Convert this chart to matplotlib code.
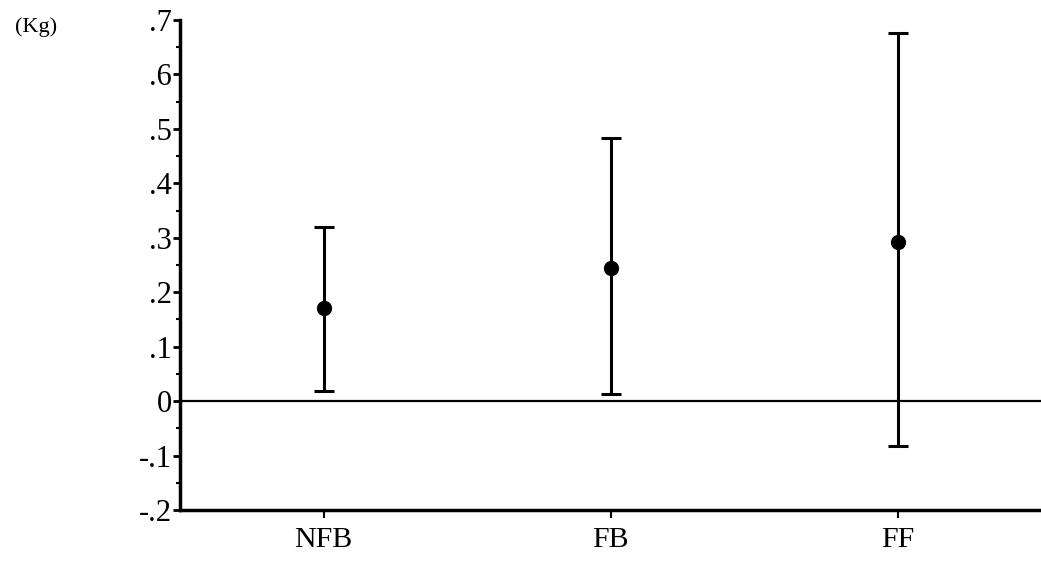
import matplotlib
matplotlib.use("Agg")
import matplotlib.pyplot as plt
from matplotlib.ticker import MultipleLocator

categories = ["NFB", "FB", "FF"]
means = [0.171, 0.245, 0.293]
lower = [0.018, 0.013, -0.083]
upper = [0.319, 0.484, 0.676]
ytick_values = [-0.2, -0.1, 0.0, 0.1, 0.2, 0.3, 0.4, 0.5, 0.6, 0.7]
ytick_labels = ["-.2", "-.1", "0", ".1", ".2", ".3", ".4", ".5", ".6", ".7"]
unit_label = "(Kg)"

plt.rcParams['font.family'] = ['Liberation Serif', 'DejaVu Serif']

fig = plt.figure(figsize=(10.41, 5.62), dpi=100)
ax = fig.add_axes([180/1041, (562-510)/562, 1 - 180/1041, (510-20)/562])

x = list(range(len(categories)))
yerr = [[m - l for m, l in zip(means, lower)], [u - m for m, u in zip(means, upper)]]
ax.axhline(0, color="black", lw=1.6, zorder=1)
ax.errorbar(x, means, yerr=yerr, fmt="o", color="black", ms=10, elinewidth=2.2,
            capsize=7, capthick=2.2, zorder=3)

ax.set_xlim(-0.5, 2.5)
ax.set_ylim(-0.2, 0.7)
ax.set_xticks(x)
ax.set_xticklabels(categories, fontsize=21.5)
ax.set_yticks(ytick_values)
ax.set_yticklabels(ytick_labels, fontsize=22)
ax.yaxis.set_minor_locator(MultipleLocator(0.05))

for s in ["top", "right"]:
    ax.spines[s].set_visible(False)
for s in ["left", "bottom"]:
    ax.spines[s].set_linewidth(2.5)

ax.tick_params(axis="y", which="major", length=5, width=2, direction="out", pad=1)
ax.tick_params(axis="y", which="minor", length=3, width=1.5, direction="out")
ax.tick_params(axis="x", which="major", length=6, width=1.5, direction="out", pad=6)

fig.text(36/1041, 1 - 27/562, unit_label, fontsize=16, va="center", ha="center")

fig.savefig("out.png", dpi=100)
